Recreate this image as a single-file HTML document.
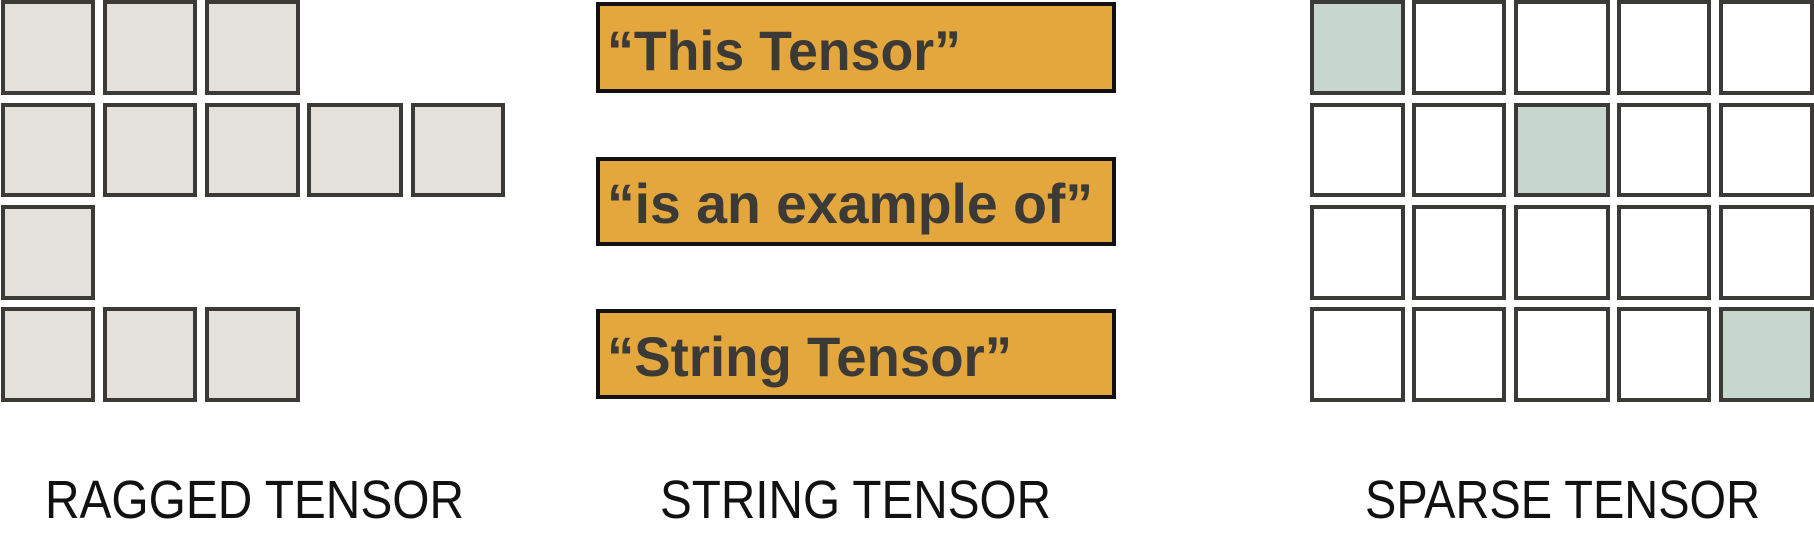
<!DOCTYPE html>
<html><head><meta charset="utf-8"><style>
html,body{margin:0;padding:0;background:#fff;width:1814px;height:533px;overflow:hidden}
svg{display:block}
</style></head><body>
<svg width="1814" height="533" xmlns="http://www.w3.org/2000/svg">
<g stroke="#3b3a37" stroke-width="4" fill="#e4e0dc">
<rect x="3" y="2" width="90" height="91"/><rect x="105" y="2" width="90" height="91"/><rect x="207" y="2" width="91" height="91"/>
<rect x="3" y="105" width="90" height="90"/><rect x="105" y="105" width="90" height="90"/><rect x="207" y="105" width="91" height="90"/><rect x="309" y="105" width="92" height="90"/><rect x="413" y="105" width="90" height="90"/>
<rect x="3" y="207" width="90" height="91"/>
<rect x="3" y="309" width="90" height="91"/><rect x="105" y="309" width="90" height="91"/><rect x="207" y="309" width="91" height="91"/>
</g>
<g stroke="#3b3a37" stroke-width="4" fill="#fff">
<rect x="1312" y="2" width="91" height="91" fill="#c8d6d0"/><rect x="1414" y="2" width="90" height="91"/><rect x="1516" y="2" width="92" height="91"/><rect x="1619" y="2" width="90" height="91"/><rect x="1721" y="2" width="91" height="91"/>
<rect x="1312" y="105" width="91" height="90"/><rect x="1414" y="105" width="90" height="90"/><rect x="1516" y="105" width="92" height="90" fill="#c8d6d0"/><rect x="1619" y="105" width="90" height="90"/><rect x="1721" y="105" width="91" height="90"/>
<rect x="1312" y="207" width="91" height="91"/><rect x="1414" y="207" width="90" height="91"/><rect x="1516" y="207" width="92" height="91"/><rect x="1619" y="207" width="90" height="91"/><rect x="1721" y="207" width="91" height="91"/>
<rect x="1312" y="309" width="91" height="91"/><rect x="1414" y="309" width="90" height="91"/><rect x="1516" y="309" width="92" height="91"/><rect x="1619" y="309" width="90" height="91"/><rect x="1721" y="309" width="91" height="91" fill="#c8d6d0"/>
</g>
<g stroke="#111" stroke-width="4" fill="#e4a73d">
<rect x="598" y="4" width="516" height="87"/>
<rect x="598" y="159" width="516" height="85"/>
<rect x="598" y="311" width="516" height="86"/>
</g>
<g font-family="Liberation Sans, sans-serif" font-weight="bold" font-size="56" fill="#3b3a37">
<text x="607" y="70" textLength="354" lengthAdjust="spacingAndGlyphs">“This Tensor”</text>
<text x="607" y="223" textLength="486" lengthAdjust="spacingAndGlyphs">“is an example of”</text>
<text x="607" y="376" textLength="405" lengthAdjust="spacingAndGlyphs">“String Tensor”</text>
</g>
<g font-family="Liberation Sans, sans-serif" font-size="54" fill="#111">
<text x="45" y="518" textLength="419" lengthAdjust="spacingAndGlyphs">RAGGED TENSOR</text>
<text x="660" y="518" textLength="391" lengthAdjust="spacingAndGlyphs">STRING TENSOR</text>
<text x="1365" y="518" textLength="395" lengthAdjust="spacingAndGlyphs">SPARSE TENSOR</text>
</g>
</svg>
</body></html>
